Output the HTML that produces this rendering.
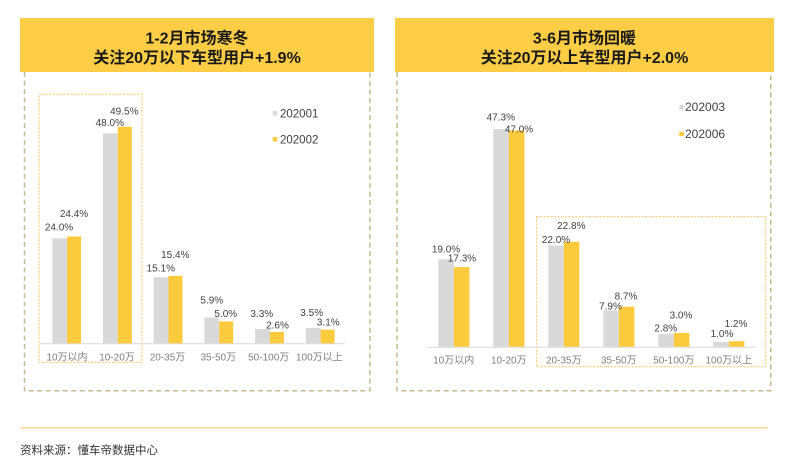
<!DOCTYPE html>
<html>
<head>
<meta charset="utf-8">
<style>
html,body{margin:0;padding:0;background:#fff;}
svg{display:block;}
text{font-family:"Liberation Sans","Noto Sans CJK SC",sans-serif;}
.t{font-size:16px;font-weight:700;fill:#1a1a1a;text-anchor:middle;}
.v{font-size:10px;fill:#404040;text-anchor:middle;}
.c{font-size:10px;fill:#7f7f7f;text-anchor:middle;}
.lg{fill:#404040;}
</style>
</head>
<body>
<svg width="800" height="471" viewBox="0 0 800 471" xmlns="http://www.w3.org/2000/svg">
<rect width="800" height="471" fill="#fff"/>

<!-- LEFT PANEL -->
<rect x="20" y="18" width="354" height="54" fill="#FCCD45"/>
<text class="t" x="197" y="43.3">1-2月市场寒冬</text>
<text class="t" x="197" y="62.8">关注20万以下车型用户+1.9%</text>
<path d="M24.5 72 V390.8 H370 V72" fill="none" stroke="#C9B98E" stroke-width="1.5" stroke-dasharray="5,3.5"/>

<!-- left highlight box -->
<rect x="39" y="94.3" width="103" height="268" fill="none" stroke="#F6C45C" stroke-width="1" stroke-dasharray="2,1.5"/>

<!-- left axis -->
<line x1="40" y1="343.8" x2="345" y2="343.8" stroke="#D9D9D9" stroke-width="1"/>

<!-- left bars: start 52.3 + i*50.7, baseline 343.3, scale 4.375 -->
<g>
<rect x="52.3" y="238.3" width="14.8" height="105" fill="#D9D9D9"/>
<rect x="67.1" y="236.5" width="14" height="106.8" fill="#FBCB3D"/>
<rect x="103" y="133.3" width="14.8" height="210" fill="#D9D9D9"/>
<rect x="117.8" y="126.7" width="14" height="216.6" fill="#FBCB3D"/>
<rect x="153.7" y="277.2" width="14.8" height="66.1" fill="#D9D9D9"/>
<rect x="168.5" y="275.9" width="14" height="67.4" fill="#FBCB3D"/>
<rect x="204.4" y="317.5" width="14.8" height="25.8" fill="#D9D9D9"/>
<rect x="219.2" y="321.4" width="14" height="21.9" fill="#FBCB3D"/>
<rect x="255.1" y="328.9" width="14.8" height="14.4" fill="#D9D9D9"/>
<rect x="269.9" y="331.9" width="14" height="11.4" fill="#FBCB3D"/>
<rect x="305.8" y="328" width="14.8" height="15.3" fill="#D9D9D9"/>
<rect x="320.6" y="329.7" width="14" height="13.6" fill="#FBCB3D"/>
</g>

<!-- left value labels -->
<text class="v" x="59" y="230.6">24.0%</text>
<text class="v" x="74" y="216.9">24.4%</text>
<text class="v" x="109.8" y="125.9">48.0%</text>
<text class="v" x="124.3" y="114.3">49.5%</text>
<text class="v" x="160.8" y="271.3">15.1%</text>
<text class="v" x="175.3" y="257.9">15.4%</text>
<text class="v" x="211.8" y="303.6">5.9%</text>
<text class="v" x="225.8" y="316.9">5.0%</text>
<text class="v" x="261.8" y="316.9">3.3%</text>
<text class="v" x="277.5" y="328.6">2.6%</text>
<text class="v" x="311.7" y="315.9">3.5%</text>
<text class="v" x="328.3" y="325.3">3.1%</text>

<!-- left categories -->
<text class="c" x="67" y="360.3">10万以内</text>
<text class="c" x="117" y="360.3">10-20万</text>
<text class="c" x="167.5" y="360.3">20-35万</text>
<text class="c" x="218.3" y="360.3">35-50万</text>
<text class="c" x="268.7" y="360.3">50-100万</text>
<text class="c" x="319.3" y="360.3">100万以上</text>

<!-- left legend -->
<rect x="272.7" y="111" width="4.5" height="4.5" fill="#D9D9D9"/>
<text class="lg" x="280" y="117.4" font-size="11.5">202001</text>
<rect x="272.7" y="137" width="4.5" height="4.5" fill="#FBCB3D"/>
<text class="lg" x="280" y="143.4" font-size="11.5">202002</text>

<!-- RIGHT PANEL -->
<rect x="395" y="18" width="379" height="54" fill="#FCCD45"/>
<text class="t" x="584.5" y="43.3">3-6月市场回暖</text>
<text class="t" x="584.5" y="62.8">关注20万以上车型用户+2.0%</text>
<path d="M397 72 V390.8 H770.7 V72" fill="none" stroke="#C9B98E" stroke-width="1.5" stroke-dasharray="5,3.5"/>

<!-- right highlight box -->
<rect x="536.7" y="216.7" width="229" height="150" fill="none" stroke="#F6C45C" stroke-width="1" stroke-dasharray="2,1.5"/>

<!-- right axis -->
<line x1="426.7" y1="347.2" x2="756" y2="347.2" stroke="#D9D9D9" stroke-width="1"/>

<!-- right bars: start 438.3 + i*55, baseline 346.7, scale 4.6 -->
<g>
<rect x="438.3" y="259.3" width="15.6" height="87.4" fill="#D9D9D9"/>
<rect x="453.9" y="267.1" width="15.5" height="79.6" fill="#FBCB3D"/>
<rect x="493.3" y="129.1" width="15.6" height="217.6" fill="#D9D9D9"/>
<rect x="508.9" y="130.5" width="15.5" height="216.2" fill="#FBCB3D"/>
<rect x="548.3" y="245.5" width="15.6" height="101.2" fill="#D9D9D9"/>
<rect x="563.9" y="241.8" width="15.5" height="104.9" fill="#FBCB3D"/>
<rect x="603.3" y="310.4" width="15.6" height="36.3" fill="#D9D9D9"/>
<rect x="618.9" y="306.7" width="15.5" height="40" fill="#FBCB3D"/>
<rect x="658.3" y="333.8" width="15.6" height="12.9" fill="#D9D9D9"/>
<rect x="673.9" y="332.9" width="15.5" height="13.8" fill="#FBCB3D"/>
<rect x="713.3" y="342.1" width="15.6" height="4.6" fill="#D9D9D9"/>
<rect x="728.9" y="341.2" width="15.5" height="5.5" fill="#FBCB3D"/>
</g>

<!-- right value labels -->
<text class="v" x="446" y="252.6">19.0%</text>
<text class="v" x="462" y="261.3">17.3%</text>
<text class="v" x="500.8" y="120.3">47.3%</text>
<text class="v" x="519" y="132.3">47.0%</text>
<text class="v" x="556" y="242.9">22.0%</text>
<text class="v" x="571.3" y="228.9">22.8%</text>
<text class="v" x="610.5" y="309.6">7.9%</text>
<text class="v" x="626" y="299.6">8.7%</text>
<text class="v" x="665.8" y="331.3">2.8%</text>
<text class="v" x="681" y="318.6">3.0%</text>
<text class="v" x="722" y="336.9">1.0%</text>
<text class="v" x="736" y="326.9">1.2%</text>

<!-- right categories -->
<text class="c" x="453.7" y="363.6">10万以内</text>
<text class="c" x="508.8" y="363.6">10-20万</text>
<text class="c" x="563.8" y="363.6">20-35万</text>
<text class="c" x="618.8" y="363.6">35-50万</text>
<text class="c" x="673.8" y="363.6">50-100万</text>
<text class="c" x="728.8" y="363.6">100万以上</text>

<!-- right legend -->
<rect x="679.3" y="105" width="4.5" height="4.5" fill="#D9D9D9"/>
<text class="lg" x="685" y="111" font-size="12">202003</text>
<rect x="679.3" y="131.7" width="4.5" height="4.5" fill="#FBCB3D"/>
<text class="lg" x="685" y="138" font-size="12">202006</text>

<!-- bottom line and source -->
<line x1="20" y1="427.7" x2="767.7" y2="427.7" stroke="#F8DB90" stroke-width="1.5"/>
<text x="20" y="454.2" font-size="11.5" fill="#333">资料来源：懂车帝数据中心</text>
</svg>
</body>
</html>
